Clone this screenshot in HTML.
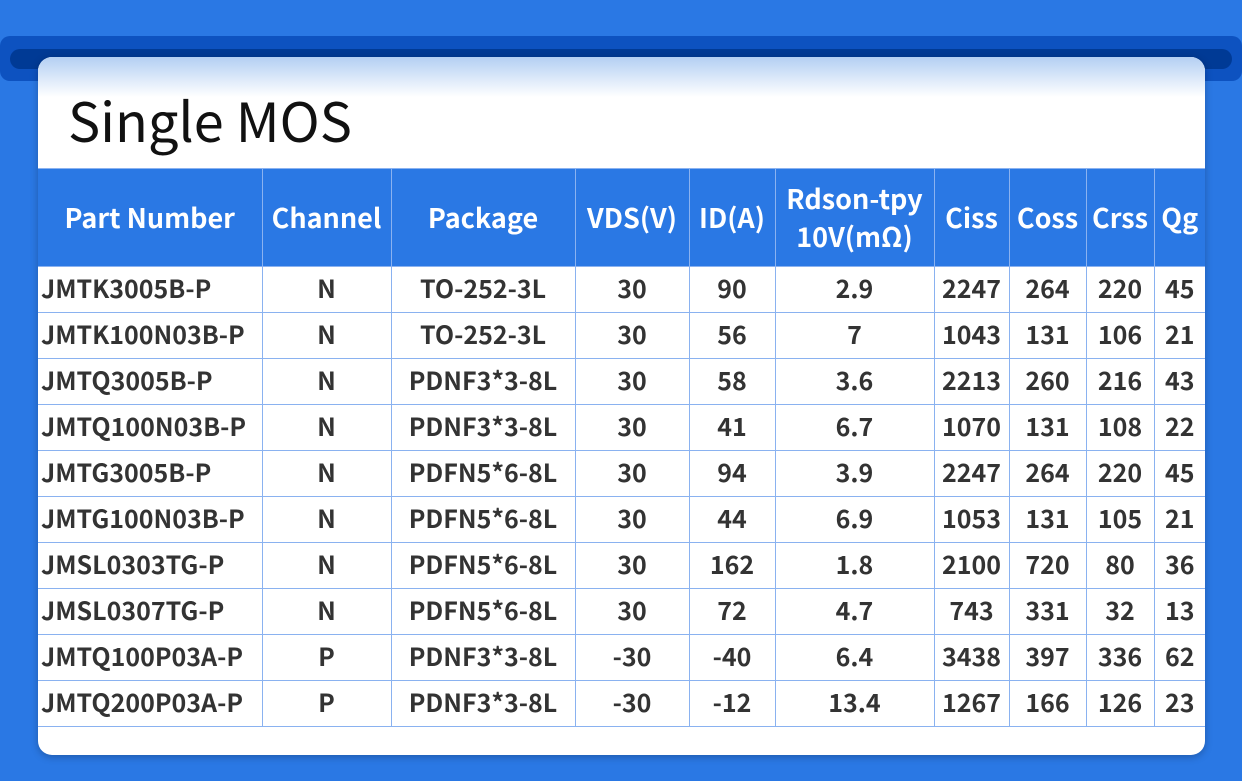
<!DOCTYPE html>
<html><head><meta charset="utf-8"><style>
*{margin:0;padding:0;box-sizing:border-box}
body{width:1242px;height:781px;background:#2a78e4;position:relative;overflow:hidden;font-family:"Noto Sans CJK SC","Liberation Sans",sans-serif}
.band{position:absolute;left:0;top:36px;width:1242px;height:45px;background:#0d52c0;border-radius:10px}
.band2{position:absolute;left:10px;top:49px;width:1222px;height:20px;background:#003a95;border-radius:10px}
.card{position:absolute;left:38px;top:57px;width:1167px;height:698px;background:#fff;border-radius:14px;overflow:hidden;box-shadow:0 2px 8px rgba(0,0,0,.25)}
.grad{position:absolute;left:0;top:0;width:100%;height:40px;background:linear-gradient(#b3cff3,#fff)}
.title{position:absolute;left:30px;top:24px;font-size:54px;color:#111;line-height:76px}
table{position:absolute;left:0;top:111px;border-collapse:collapse;table-layout:fixed;width:1167px}
td,th{border:1.5px solid #8ab2f0;text-align:center;font-size:25px;color:#333;font-weight:bold;height:46px;padding:0 0 4px 0;white-space:nowrap;line-height:30px}
th{background:#2a78e4;color:#fff;height:98px;font-size:27px;line-height:38px;padding:0 0 2px 0}
td.l{text-align:left;padding-left:3px}
tr td:first-child,tr th:first-child{border-left:none}
tr td:last-child,tr th:last-child{border-right:none}
</style></head><body>
<div class="band"></div><div class="band2"></div>
<div class="card"><div class="grad"></div><div class="title">Single MOS</div>
<table>
<colgroup><col style="width:224px"><col style="width:129px"><col style="width:184px"><col style="width:114px"><col style="width:86px"><col style="width:159px"><col style="width:75px"><col style="width:77px"><col style="width:68px"><col style="width:51px"></colgroup>
<tr><th>Part Number</th><th>Channel</th><th>Package</th><th>VDS(V)</th><th>ID(A)</th><th>Rdson-tpy<br>10V(mΩ)</th><th>Ciss</th><th>Coss</th><th>Crss</th><th>Qg</th></tr>
<tr><td class="l">JMTK3005B-P</td><td>N</td><td>TO-252-3L</td><td>30</td><td>90</td><td>2.9</td><td>2247</td><td>264</td><td>220</td><td>45</td></tr>
<tr><td class="l">JMTK100N03B-P</td><td>N</td><td>TO-252-3L</td><td>30</td><td>56</td><td>7</td><td>1043</td><td>131</td><td>106</td><td>21</td></tr>
<tr><td class="l">JMTQ3005B-P</td><td>N</td><td>PDNF3*3-8L</td><td>30</td><td>58</td><td>3.6</td><td>2213</td><td>260</td><td>216</td><td>43</td></tr>
<tr><td class="l">JMTQ100N03B-P</td><td>N</td><td>PDNF3*3-8L</td><td>30</td><td>41</td><td>6.7</td><td>1070</td><td>131</td><td>108</td><td>22</td></tr>
<tr><td class="l">JMTG3005B-P</td><td>N</td><td>PDFN5*6-8L</td><td>30</td><td>94</td><td>3.9</td><td>2247</td><td>264</td><td>220</td><td>45</td></tr>
<tr><td class="l">JMTG100N03B-P</td><td>N</td><td>PDFN5*6-8L</td><td>30</td><td>44</td><td>6.9</td><td>1053</td><td>131</td><td>105</td><td>21</td></tr>
<tr><td class="l">JMSL0303TG-P</td><td>N</td><td>PDFN5*6-8L</td><td>30</td><td>162</td><td>1.8</td><td>2100</td><td>720</td><td>80</td><td>36</td></tr>
<tr><td class="l">JMSL0307TG-P</td><td>N</td><td>PDFN5*6-8L</td><td>30</td><td>72</td><td>4.7</td><td>743</td><td>331</td><td>32</td><td>13</td></tr>
<tr><td class="l">JMTQ100P03A-P</td><td>P</td><td>PDNF3*3-8L</td><td>-30</td><td>-40</td><td>6.4</td><td>3438</td><td>397</td><td>336</td><td>62</td></tr>
<tr><td class="l">JMTQ200P03A-P</td><td>P</td><td>PDNF3*3-8L</td><td>-30</td><td>-12</td><td>13.4</td><td>1267</td><td>166</td><td>126</td><td>23</td></tr>
</table></div>
</body></html>
